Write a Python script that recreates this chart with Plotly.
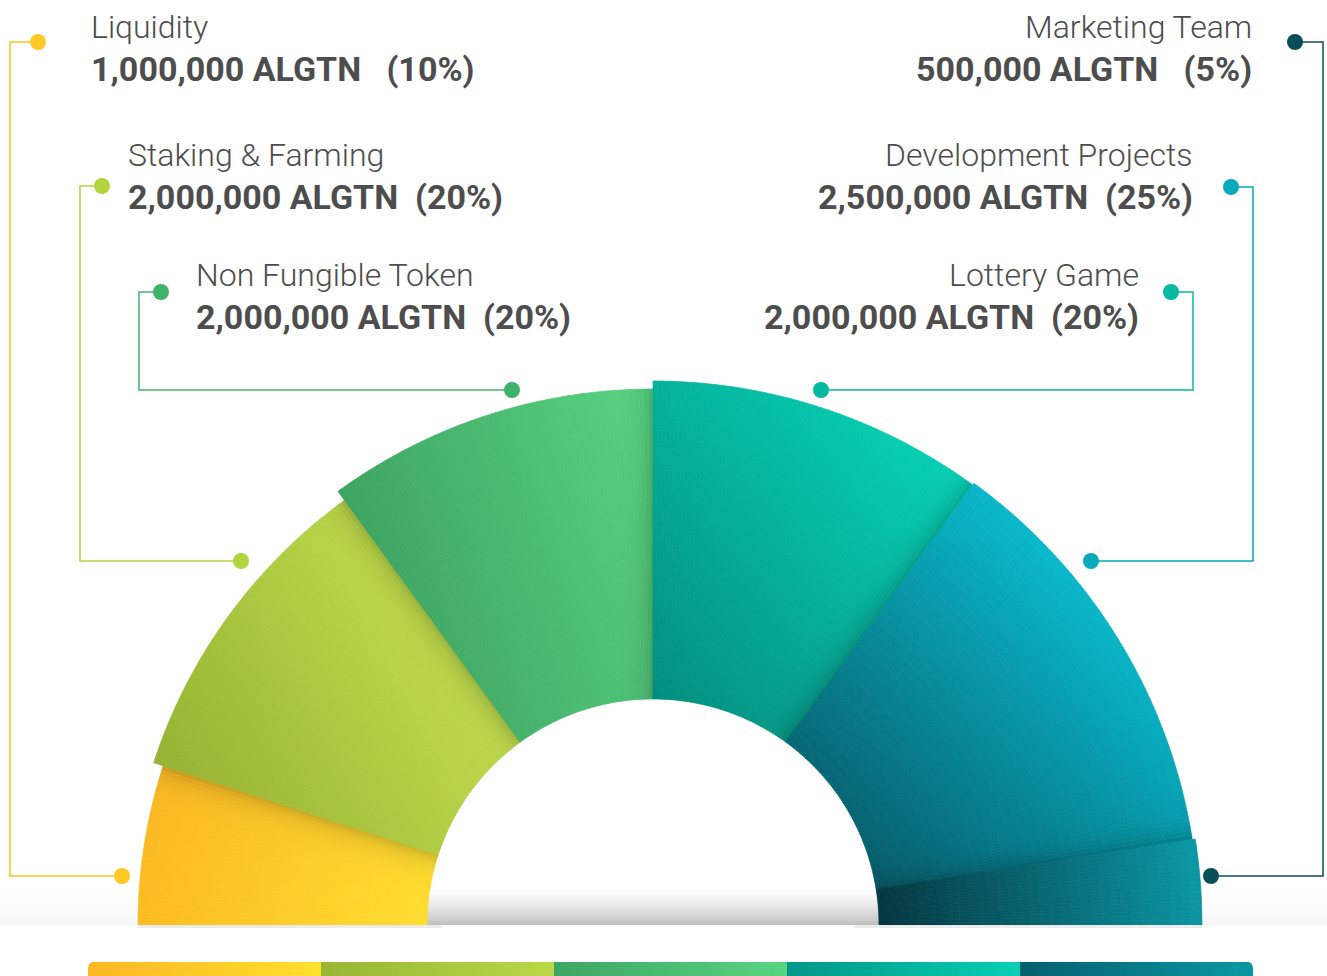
import numpy as np
import plotly.graph_objects as go

# ---------------- data ----------------
categories = ["Liquidity", "Staking & Farming", "Non Fungible Token",
              "Lottery Game", "Development Projects", "Marketing Team"]
tokens = [1000000, 2000000, 2000000, 2000000, 2500000, 500000]
percents = [10, 20, 20, 20, 25, 5]
unit = "ALGTN"

# ---------------- style ----------------
W, H = 1327, 976
CX, CY = 653, 925          # pixel centre of the half donut
R_MAX = 550                # radial axis max == pixels
inner_radius = 226
outer_radius = [515, 525, 536, 544, 546, 549]
seg_dark = ["#FBBA22", "#96B334", "#3DA462", "#028E7E", "#045B69", "#04363F"]
seg_light = ["#FFDD2E", "#BFDB4A", "#58D481", "#06D0B4", "#08B7C9", "#0B96A3"]
seg_dir = [-15, 30, 20, 40, 45, 10]
shadow_strength, shadow_width = 0.20, 11.0

line_colors = ["#F9C21D", "#B4D23F", "#44B16A", "#0AB6A0", "#0AA7BA", "#0B4F59"]
dot_colors = ["#FFC926", "#B3D33F", "#3DB268", "#03B9A0", "#08A9BD", "#084D57"]
text_color = "#4D4D4D"

side = ["left", "left", "left", "right", "right", "right"]
text_x = [89, 126, 194, 1141, 1195, 1254]
name_y = [27, 155, 275, 275, 155, 27]
num_y = [69, 197, 317, 317, 197, 69]
gap_spaces = [3, 2, 2, 2, 2, 3]
dot_top = [(38, 42), (102, 186), (161, 292), (1171, 292), (1231, 187), (1295, 42)]
rail_x = [10, 80, 139, 1193, 1253, 1323]
dot_bot = [(122, 876), (241, 561), (512, 390), (821, 390), (1091, 561), (1211, 876)]

bar_colorscale = [[0.0, "#FBB724"], [0.2, "#FFDF2E"], [0.2, "#97B634"], [0.4, "#BAD847"],
                  [0.4, "#3EA563"], [0.6, "#58D581"], [0.6, "#02968A"], [0.8, "#06D0B3"],
                  [0.8, "#04606D"], [1.0, "#0A97A5"]]


def hex2rgb(h):
    return np.array([int(h[k:k + 2], 16) for k in (1, 3, 5)], float)


fig = go.Figure()

# ---------------- half donut (barpolar cells for gradient) ----------------
total = float(sum(percents))
theta_hi = 180.0
for i, cat in enumerate(categories):
    span = 180.0 * percents[i] / total
    lo, hi = theta_hi - span, theta_hi
    theta_hi = lo
    n_a = max(8, int(round(span / 0.5)))
    ro = outer_radius[i]
    n_r = max(6, int(round((ro - inner_radius) / 10.0)))
    a_edges = np.linspace(lo, hi, n_a + 1)
    r_edges = np.linspace(inner_radius, ro, n_r + 1)
    ac = (a_edges[:-1] + a_edges[1:]) / 2
    aw = a_edges[1] - a_edges[0]
    A, RB = np.meshgrid(ac, r_edges[:-1])
    _, RT = np.meshgrid(ac, r_edges[1:])
    RC = (RB + RT) / 2
    X = RC * np.cos(np.radians(A))
    Y = RC * np.sin(np.radians(A))
    phi = np.radians(seg_dir[i])
    P = X * np.cos(phi) + Y * np.sin(phi)
    t = (P - P.min()) / (P.max() - P.min())
    dark, light = hex2rgb(seg_dark[i]), hex2rgb(seg_light[i])
    col = dark[None, None, :] + (light - dark)[None, None, :] * t[..., None]
    if i < len(categories) - 1:
        d = RC * np.radians(A - lo)
        shade = 1 - shadow_strength * np.exp(-d / shadow_width)
        col = col * shade[..., None]
    col = np.clip(col.reshape(-1, 3).round(), 0, 255).astype(int)
    colors = ["rgb(%d,%d,%d)" % tuple(c) for c in col]
    fig.add_trace(go.Barpolar(
        theta=A.ravel(), r=(RT - RB).ravel(), base=RB.ravel(), width=aw,
        marker=dict(color=colors, line=dict(color=colors, width=0.7)),
        name=cat, hoverinfo="skip", showlegend=False))

# ---------------- bottom colour bar ----------------
n_px = 1253 - 88
fig.add_trace(go.Heatmap(
    z=[[(k + 0.5) / n_px for k in range(n_px)]], x0=88.5, dx=1, y0=969, dy=14,
    colorscale=bar_colorscale, zmin=0, zmax=1, showscale=False,
    hoverinfo="skip", xaxis="x", yaxis="y"))

# ---------------- connectors ----------------
for i in range(len(categories)):
    (tx, ty), (bx, by), rx = dot_top[i], dot_bot[i], rail_x[i]
    fig.add_trace(go.Scatter(
        x=[tx, rx, rx, bx], y=[ty, ty, by, by], mode="lines",
        line=dict(color=line_colors[i], width=1.5), hoverinfo="skip",
        showlegend=False, xaxis="x", yaxis="y"))
    fig.add_trace(go.Scatter(
        x=[tx, bx], y=[ty, by], mode="markers",
        marker=dict(color=dot_colors[i], size=16, line=dict(width=0)),
        hoverinfo="skip", showlegend=False, xaxis="x", yaxis="y"))

# ---------------- labels ----------------
annotations = []
for i, cat in enumerate(categories):
    anchor = side[i]
    annotations.append(dict(
        x=text_x[i], y=name_y[i], xref="x", yref="y", text=cat, showarrow=False,
        xanchor=anchor, yanchor="middle",
        font=dict(family="Roboto", size=32, color=text_color, weight=300)))
    num_text = f"{tokens[i]:,} {unit}" + "\u00a0" * gap_spaces[i] + f"({percents[i]}%)"
    annotations.append(dict(
        x=text_x[i], y=num_y[i], xref="x", yref="y", text=num_text, showarrow=False,
        xanchor=anchor, yanchor="middle",
        font=dict(family="Roboto", size=34, color=text_color, weight=700)))

# ---------------- floor shadows ----------------
shapes = []
steps = 40
for k in range(steps):
    y0 = CY - steps + k
    a_all = 0.035 * ((k + 1) / steps) ** 2
    shapes.append(dict(type="rect", xref="x", yref="y", x0=0, x1=W, y0=y0, y1=y0 + 1,
                       fillcolor=f"rgba(0,0,0,{a_all:.4f})", line=dict(width=0), layer="below"))
    a_hole = 0.22 * ((k + 1) / steps) ** 1.6
    shapes.append(dict(type="rect", xref="x", yref="y", x0=CX - inner_radius - 10,
                       x1=CX + inner_radius + 10, y0=y0, y1=y0 + 1,
                       fillcolor=f"rgba(0,0,0,{a_hole:.4f})", line=dict(width=0), layer="below"))
for (xa, xb) in [(CX - outer_radius[0], CX - inner_radius + 15),
                 (CX + inner_radius - 25, CX + outer_radius[-1])]:
    shapes.append(dict(type="rect", xref="x", yref="y", x0=xa, x1=xb, y0=CY, y1=CY + 3,
                       fillcolor="rgba(0,0,0,0.08)", line=dict(width=0), layer="below"))
# rounded ends of bottom bar
shapes.append(dict(type="path", xref="x", yref="y", path="M 87,961 L 95,961 Q 88,962 88,969 L 87,969 Z",
                   fillcolor="white", line=dict(width=0), layer="above"))
shapes.append(dict(type="path", xref="x", yref="y", path="M 1254,961 L 1246,961 Q 1253,962 1253,969 L 1254,969 Z",
                   fillcolor="white", line=dict(width=0), layer="above"))

fig.update_layout(
    width=W, height=H, margin=dict(l=0, r=0, t=0, b=0),
    paper_bgcolor="white", plot_bgcolor="rgba(0,0,0,0)",
    showlegend=False,
    xaxis=dict(range=[0, W], domain=[0, 1], visible=False, fixedrange=True),
    yaxis=dict(range=[H, 0], domain=[0, 1], visible=False, fixedrange=True),
    polar=dict(
        domain=dict(x=[(CX - R_MAX) / W, (CX + R_MAX) / W],
                    y=[(H - CY) / H, (H - CY + R_MAX) / H]),
        sector=[0, 180], hole=0, bgcolor="rgba(0,0,0,0)",
        barmode="overlay", bargap=0,
        radialaxis=dict(visible=False, range=[0, R_MAX], showgrid=False),
        angularaxis=dict(visible=False, showgrid=False, direction="counterclockwise", rotation=0),
    ),
    annotations=annotations, shapes=shapes,
)

fig.write_html("out.html", config={"displayModeBar": False},
               post_script="document.body.style.margin='0';document.body.style.overflow='hidden';")
